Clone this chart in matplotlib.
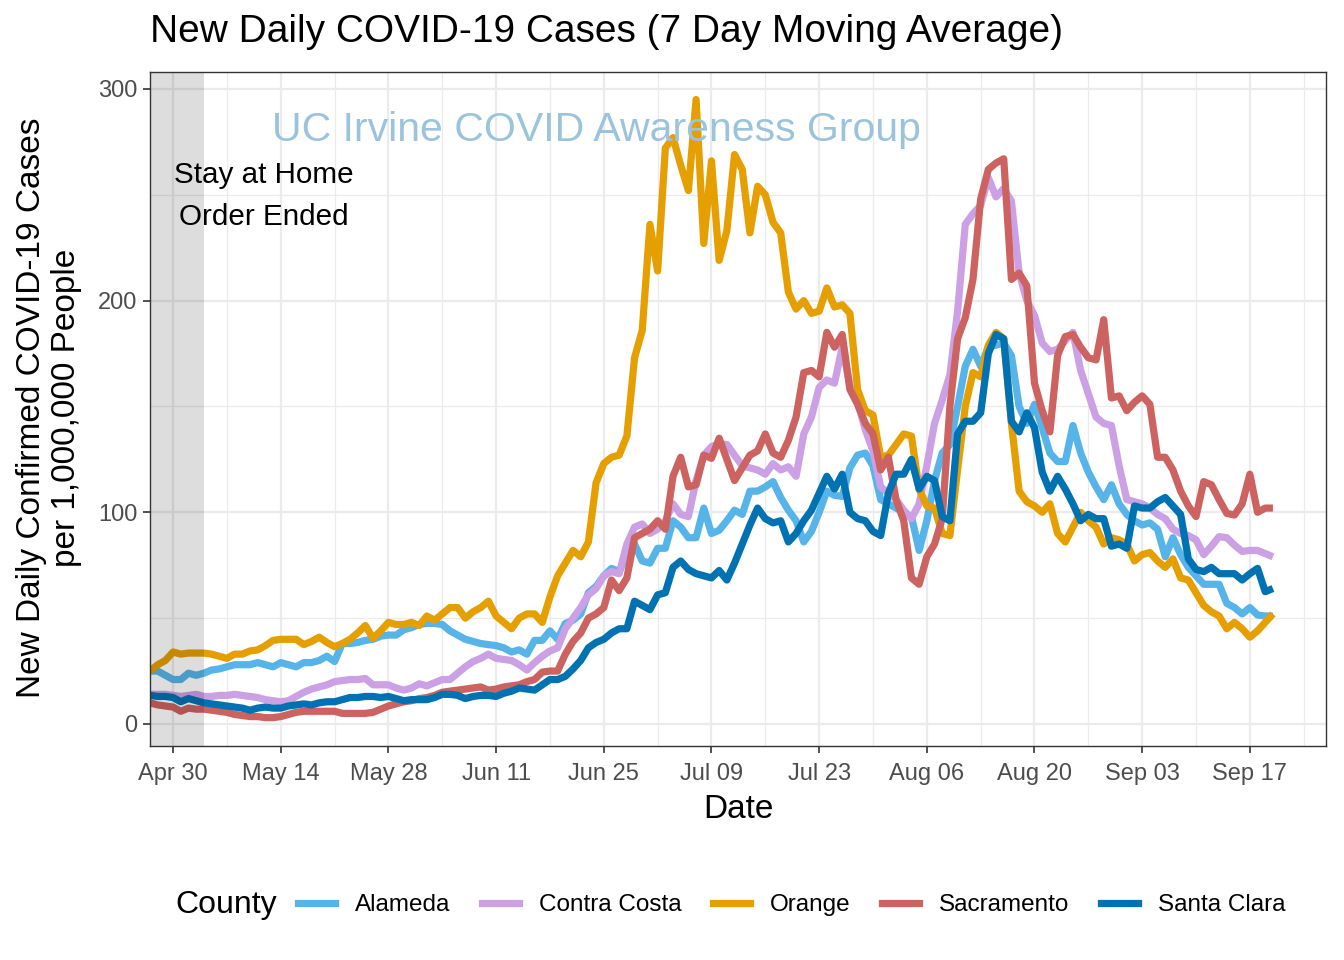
import numpy as np
import pandas as pd
import matplotlib
matplotlib.use("Agg")
import matplotlib.pyplot as plt
from matplotlib.lines import Line2D

plt.rcParams['font.family'] = ['Liberation Sans', 'DejaVu Sans']

start_date = "2020-04-27"
counties = ["Alameda", "Contra Costa", "Orange", "Sacramento", "Santa Clara"]
colors = ["#56B4E9", "#CBA0E5", "#E69F00", "#CC6360", "#0072B2"]

alameda = [25, 25, 23, 21, 21, 24, 23, 24, 25.5, 26, 27, 28, 28, 28, 29, 28, 27, 29, 28, 27,
           29, 29, 30, 32, 29.5, 38, 38, 38.5, 39.5, 40, 41.5, 42, 42, 44.5, 45.5, 47, 47.5, 47.5, 47, 44,
           42, 40, 39, 38, 37.5, 37, 36, 34, 35, 33, 39.5, 39.5, 44, 40, 47.5, 49, 52, 62, 65, 70,
           73.5, 72, 80, 85, 77, 76, 83, 83, 96, 93, 88, 88, 102, 90, 91.5, 96, 101, 99, 110, 110,
           112, 114.5, 107, 101, 96, 86, 91, 100, 110, 108, 107.5, 121, 127, 128, 122, 106, 104, 102, 100, 98,
           82, 96, 115, 128, 132, 150, 169, 177, 169, 178, 179, 180, 174, 150, 142, 151, 140, 128, 124, 124,
           141, 128, 119, 112, 106, 113, 104, 99, 96, 94, 95, 92, 79, 88, 80, 74, 70, 66, 66, 66,
           57, 55, 52, 55, 51.5, 51, 51]

contra_costa = [14, 14, 14, 13.5, 13, 13.5, 14, 13, 13, 13.5, 13.5, 14, 13.5, 13, 12.5, 11.5, 11, 10.5, 11, 13,
                15, 16.5, 17.5, 18.5, 20, 20.5, 21, 21, 21.5, 18.5, 18.5, 18.5, 17, 16, 17, 19, 18, 19.5, 21, 21,
                24, 27, 29.5, 31, 33, 31, 30.5, 30, 28, 25.5, 29, 32, 34.5, 36, 45, 50, 55, 61, 64, 70,
                72, 71, 85, 93, 94.5, 90, 92, 96, 104, 99, 98, 115, 127, 131, 132.5, 132, 127, 122, 121, 120,
                118, 123, 120, 121.5, 117, 137, 145, 159, 162.5, 161, 178, 160, 152, 139, 129, 112, 109, 106, 101, 97,
                104, 122, 142, 153, 165, 195, 236, 241, 245, 258, 249, 253, 247, 213, 200, 193, 180, 176, 177, 181,
                185, 167, 156, 145, 142, 141, 122, 106, 105, 104, 102, 99, 97, 92, 90, 89, 87, 80, 84, 88.5,
                88, 84.5, 81.5, 82, 82, 80.5, 79]

orange = [25, 28, 30, 34, 33, 33.5, 33.5, 33.5, 33, 32, 31, 33, 33, 34.5, 35, 37, 39.5, 40, 40, 40,
          37.5, 39, 41, 38.5, 36.5, 38, 40, 43, 46.5, 40.5, 44, 48, 47, 47, 48, 46.5, 51, 49, 52, 55,
          55, 50, 53, 55, 58, 51, 48, 45, 50, 52, 52, 48, 60, 70, 76, 82, 79, 86, 114, 123,
          126, 127, 136, 173, 186, 236, 214, 272, 277, 264, 252, 295, 227, 266, 219, 233, 269, 262, 232, 254,
          250, 237, 232, 204, 196, 200, 194, 195, 206, 197, 198, 194, 158, 148, 146, 126, 127, 132, 137, 136,
          111, 103, 102, 90, 89, 120, 150, 166, 164, 179, 185, 182, 142, 110, 105, 103, 100, 104, 90, 86,
          93, 100, 96, 93, 85, 88, 87, 85, 77, 80, 81, 77, 74, 78, 69, 68, 62, 56, 53, 51,
          45, 48, 45, 41, 44, 48, 52]

sacramento = [10, 9, 8.5, 8, 6, 7.5, 7, 7, 6.5, 6, 5.5, 4.5, 4, 3.5, 3.5, 3, 3, 3.5, 4.5, 5.5,
              6, 6, 6, 6, 6, 5, 5, 5, 5, 5.5, 7, 8.5, 9.5, 10.5, 11, 12, 12.5, 13.5, 15, 15.5,
              16, 16.5, 17, 17.5, 16, 16.5, 17.5, 18, 18.5, 20, 21, 24.5, 25, 25, 33, 39, 43, 50, 52, 55,
              68, 63, 69, 88, 90, 92, 96, 92, 117, 126, 112, 113, 127, 125.5, 135, 125, 115, 121, 127, 129,
              137, 128, 126, 134, 145, 166, 167, 164, 185, 178, 184, 158, 151, 142, 137, 120, 126, 106, 96, 69,
              66, 79, 85, 97, 150, 182, 192, 210, 248, 262, 265, 267, 210, 213, 207, 161, 148, 138, 174, 183,
              184, 178, 173, 172, 191, 154, 155, 148, 152, 155, 151, 126, 126, 120, 110, 103, 98, 114.5, 113, 106,
              99.5, 98.7, 104, 118, 100, 102, 102]

santa_clara = [13.5, 13, 13, 12.5, 10.5, 12, 11, 10, 9.5, 9, 8.5, 8, 7.5, 6.5, 7.5, 8, 7.5, 7.5, 8.5, 9,
               9.5, 9, 10, 10.5, 10.5, 11.5, 12.5, 12.5, 13, 13, 12.5, 13, 12, 11, 11.5, 11.5, 11.5, 12.5, 14, 14,
               13.5, 12, 13, 13.5, 13.5, 13, 14.5, 15.5, 17, 16.5, 16, 18.5, 21, 21, 22.5, 26, 30, 36, 38.5, 40,
               43, 45, 45, 58, 56, 54, 61, 62, 74, 77, 73, 71, 70, 69, 72.5, 68, 76, 85, 94, 102,
               97, 95, 96, 86, 90, 96, 101, 109, 117, 111, 118, 100, 97, 96, 91, 89, 109, 118, 118, 125,
               111, 117, 115, 98, 96, 137, 143, 143, 147, 175, 184, 182, 143, 138, 147, 140, 119, 110, 117, 111,
               104, 96, 99, 97, 97, 84, 85, 83, 103, 102, 102, 105, 107, 103, 99, 78, 73, 72, 74, 71,
               71, 71, 68, 71, 73.5, 62.5, 64]

series = [alameda, contra_costa, orange, sacramento, santa_clara]

xtick_dates = ["2020-04-30", "2020-05-14", "2020-05-28", "2020-06-11", "2020-06-25", "2020-07-09",
               "2020-07-23", "2020-08-06", "2020-08-20", "2020-09-03", "2020-09-17"]
xtick_labels = ["Apr 30", "May 14", "May 28", "Jun 11", "Jun 25", "Jul 09",
                "Jul 23", "Aug 06", "Aug 20", "Sep 03", "Sep 17"]
yticks = [0, 100, 200, 300]
order_end = "2020-05-04"

W, H = 1344, 960
fig = plt.figure(figsize=(W / 100, H / 100), dpi=100)
ax = fig.add_axes([150 / W, 1 - 746 / H, 1176 / W, 674 / H])

dates = pd.date_range(start_date, periods=len(alameda), freq="D")
for name, vals, col in zip(counties, series, colors):
    ax.plot(dates, vals, color=col, lw=5.2, solid_joinstyle="round", solid_capstyle="butt", zorder=3, label=name)

x0 = pd.Timestamp(start_date)

# shaded period
ax.axvspan(x0 - pd.Timedelta(days=2), pd.Timestamp(order_end), color="black", alpha=0.135, lw=0, zorder=4)

ax.set_ylim(-10.4, 308)

# ticks and grid
xt = pd.to_datetime(xtick_dates)
ax.set_xticks(xt)
ax.set_xticklabels(xtick_labels)
minor_x = [d + pd.Timedelta(days=7) for d in xt] + [xt[0] - pd.Timedelta(days=7)]
ax.set_xticks(minor_x, minor=True)
ax.set_yticks(yticks)
ax.set_yticks([50, 150, 250], minor=True)
ax.grid(which="major", color="#EBEBEB", lw=1.6, zorder=0)
ax.grid(which="minor", color="#EBEBEB", lw=0.9, zorder=0)
ax.set_axisbelow(True)
ax.tick_params(which="major", length=5, width=1.2, color="#333333", labelsize=17,
               labelcolor="#4D4D4D")
ax.tick_params(axis="x", which="major", pad=7)
ax.tick_params(axis="y", which="major", pad=4)
ax.tick_params(which="minor", length=0)
for s in ax.spines.values():
    s.set_color("#333333")
    s.set_linewidth(1.0)
    s.set_zorder(6)
ax.set_xlim(x0, x0 + pd.Timedelta(days=152.9))

# annotations
ax.text(x0 + pd.Timedelta(days=58), 280.6, "UC Irvine COVID Awareness Group", color="#9CC3DC",
        fontsize=29.5, ha="center", va="center", zorder=5)
ax.text(x0 + pd.Timedelta(days=14.8), 249.4, "Stay at Home\nOrder Ended", color="black",
        fontsize=21.3, ha="center", va="center", linespacing=1.63, zorder=5)

# titles
fig.text(150 / W, 1 - 32 / H, "New Daily COVID-19 Cases (7 Day Moving Average)", fontsize=28,
         ha="left", va="center")
fig.text(738 / W, 1 - 810 / H, "Date", fontsize=24, ha="center", va="center")
fig.text(49 / W, 1 - 408 / H, "New Daily Confirmed COVID-19 Cases\nper 1,000,000 People", fontsize=24,
         rotation=90, ha="center", va="center", multialignment="center", linespacing=1.13)

# legend
handles = [Line2D([], [], color=c, lw=5.2) for c in colors]
fig.text(175 / W, 1 - 905 / H, "County", fontsize=23, ha="left", va="center")
fig.legend(handles, counties, loc="center left", bbox_to_anchor=(298 / W, 1 - 905 / H), ncol=5,
           frameon=False, fontsize=17.5, handlelength=1.52, handletextpad=0.82, columnspacing=1.3,
           borderpad=0, borderaxespad=0)

fig.savefig("out.png", dpi=100)
